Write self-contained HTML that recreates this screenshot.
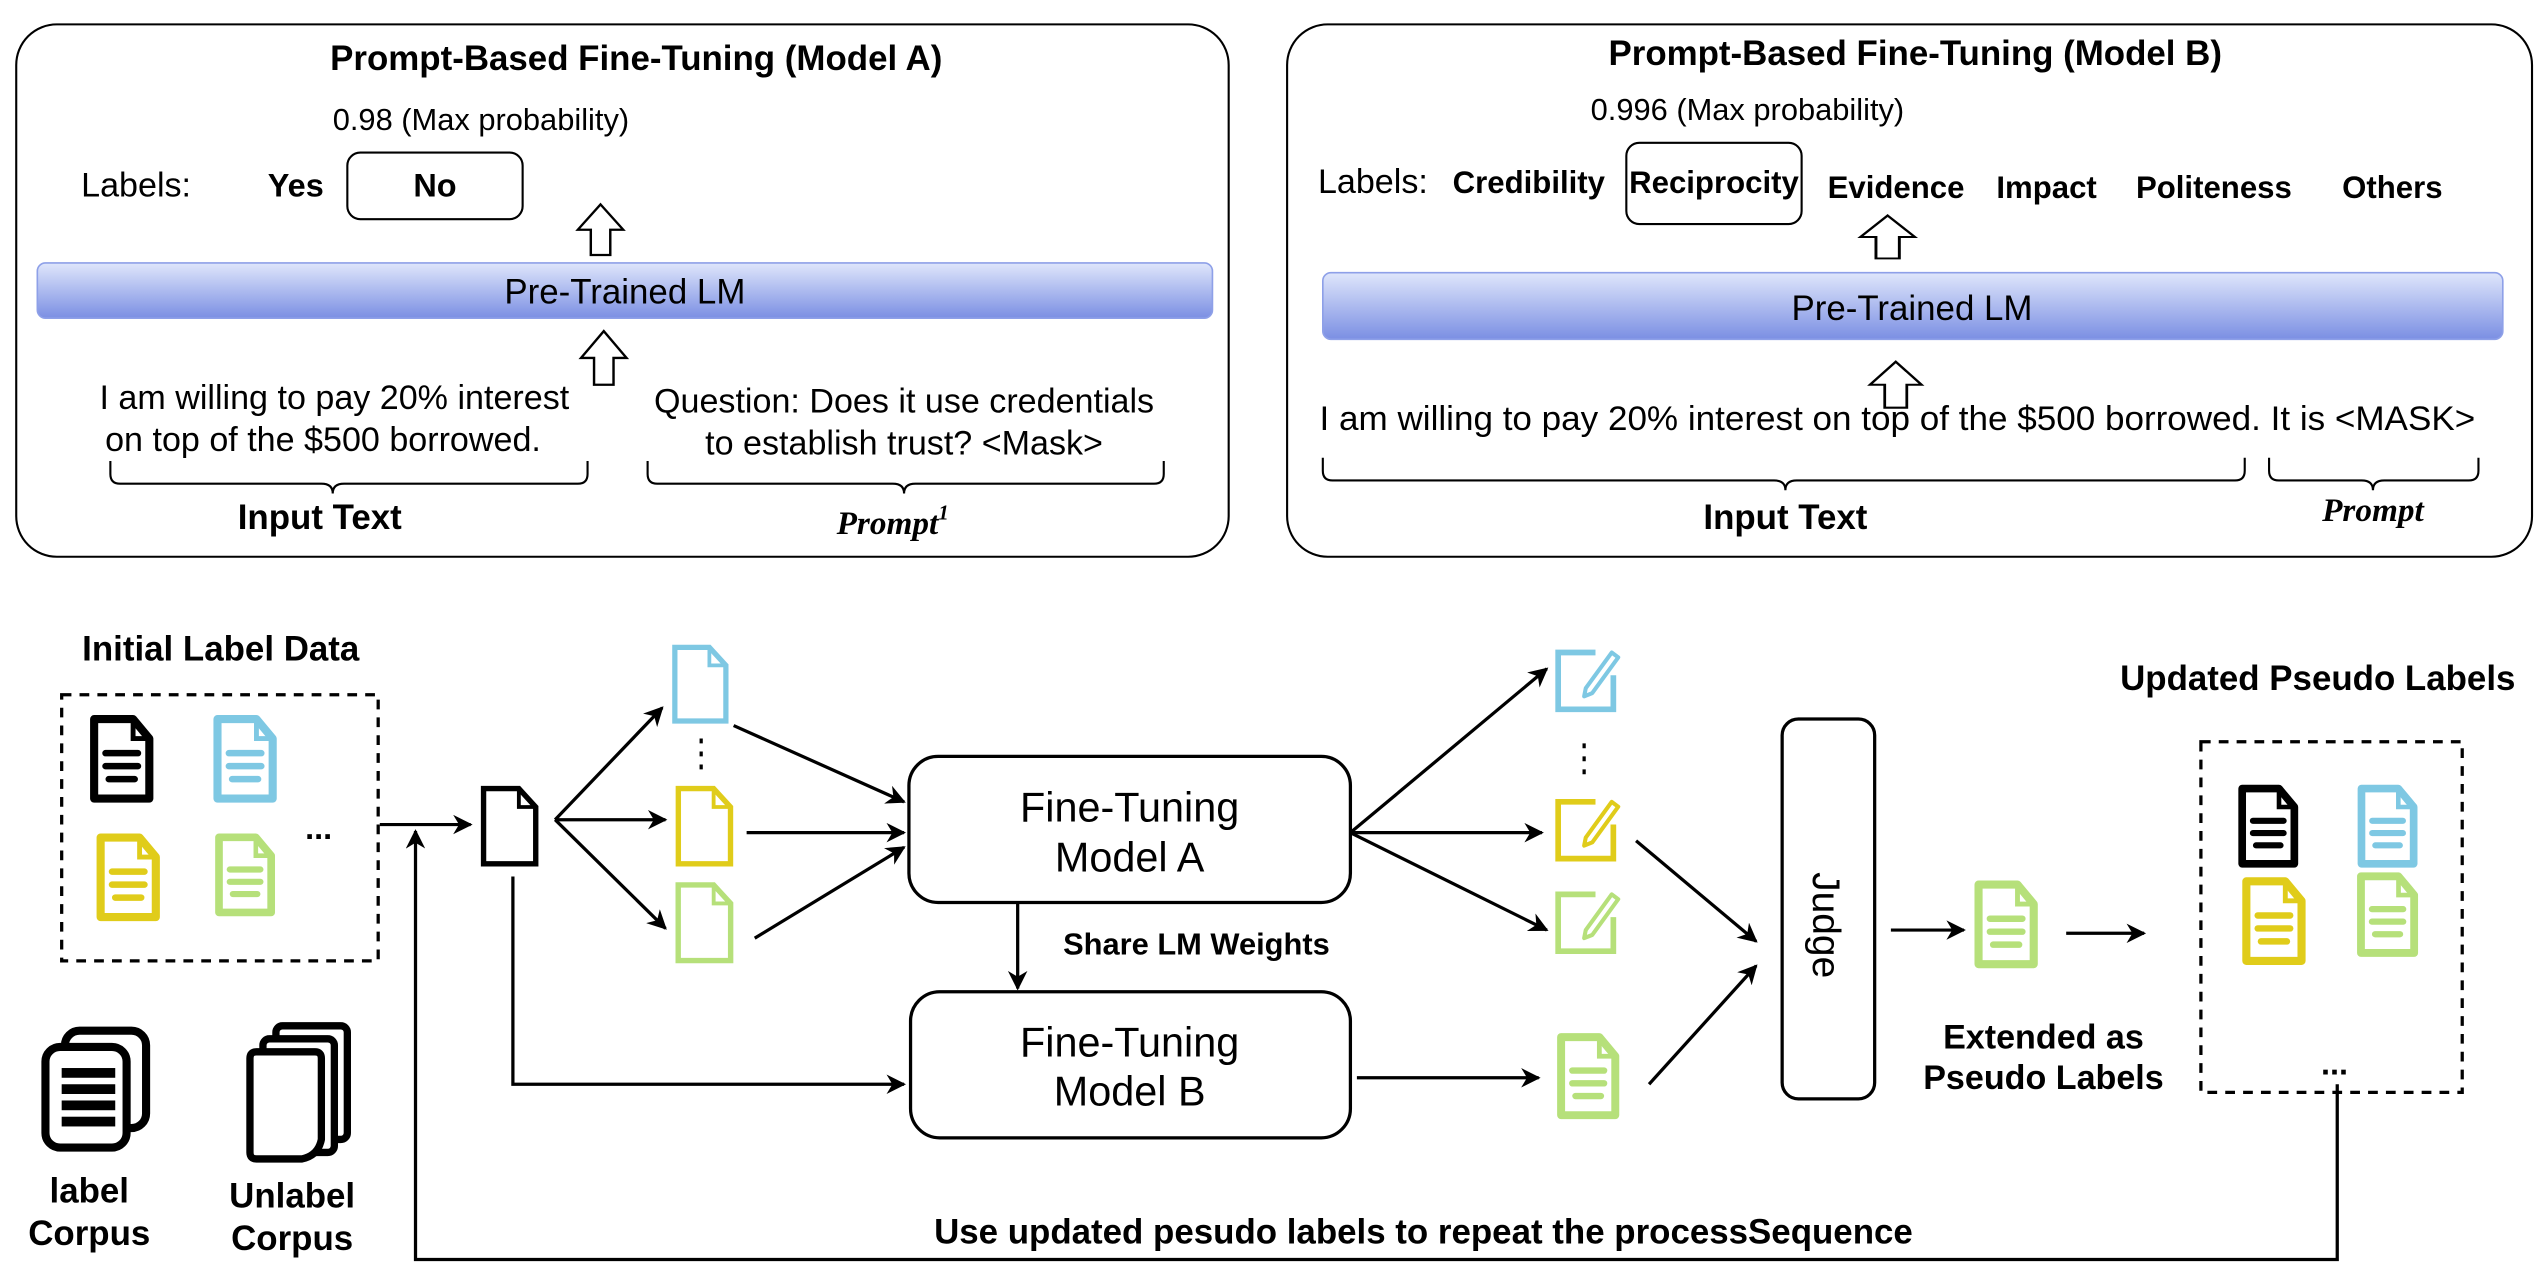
<!DOCTYPE html>
<html><head><meta charset="utf-8">
<style>
html,body{margin:0;padding:0;background:#fff;}
svg{display:block;}
text{font-family:"Liberation Sans",Arial,sans-serif;fill:#000;}
.b{font-weight:bold;}
</style></head>
<body>
<svg width="2545" height="1275" viewBox="0 0 1568 785.5" xmlns="http://www.w3.org/2000/svg">
<defs>
<linearGradient id="lm" x1="0" y1="0" x2="0" y2="1">
<stop offset="0" stop-color="#dfe6fb"/><stop offset="1" stop-color="#7b8fe3"/>
</linearGradient>
<marker id="ar2" viewBox="0 0 10 10" refX="9" refY="5" markerWidth="12" markerHeight="12" orient="auto" markerUnits="userSpaceOnUse">
<path d="M0,0 L10,5 L0,10 L3,5 Z" fill="#000"/>
</marker>
<symbol id="docL" viewBox="0 0 40 55" overflow="visible">
<path d="M3,3 H27 L37,15 V52 H3 Z" fill="#fff" stroke="currentColor" stroke-width="5" stroke-linejoin="round"/>
<path d="M27,3 V15 H37" fill="none" stroke="currentColor" stroke-width="3"/>
<path d="M10,24 H30 M10,32 H30 M12,40 H28" stroke="currentColor" stroke-width="4" stroke-linecap="round"/>
</symbol>
<symbol id="doc" viewBox="0 0 40 55" overflow="visible">
<path d="M3,3 H26 L37,15 V52 H3 Z" fill="#fff" stroke="currentColor" stroke-width="3.5"/>
<path d="M26,3 V15 H37" fill="none" stroke="currentColor" stroke-width="2.5"/>
</symbol>
<symbol id="note" viewBox="0 0 40 42" overflow="visible">
<path d="M26,4 H3 V39 H37 V18" fill="none" stroke="currentColor" stroke-width="3.5"/>
<path d="M20,26 L36,4 L40,7 L24,29 L19,31 Z" fill="#fff" stroke="currentColor" stroke-width="2.5" stroke-linejoin="round"/>
</symbol>
<symbol id="hArrow" viewBox="0 0 30 36" overflow="visible" preserveAspectRatio="none">
<path d="M15,1 L29,18 H21 V35 H9 V18 H1 Z" fill="#fff" stroke="#000" stroke-width="1.5"/>
</symbol>
</defs>

<!-- Panel A -->
<rect x="10" y="15" width="747" height="328" rx="25" fill="#fff" stroke="#000" stroke-width="1.3"/>
<text x="392" y="43" text-anchor="middle" class="b" font-size="21.5">Prompt-Based  Fine-Tuning (Model A)</text>
<text x="205" y="80" font-size="19">0.98 (Max probability)</text>
<text x="50" y="121" font-size="21">Labels:</text>
<text x="165" y="121" font-size="20" class="b">Yes</text>
<rect x="214" y="94" width="108" height="41" rx="8" fill="#fff" stroke="#000" stroke-width="1.3"/>
<text x="268" y="121" text-anchor="middle" font-size="20" class="b">No</text>
<use href="#hArrow" x="355" y="125" width="30" height="33"/>
<rect x="23" y="162" width="724" height="34" rx="5" fill="url(#lm)" stroke="#8ea0e8" stroke-width="1"/>
<text x="385" y="187" text-anchor="middle" font-size="21.5">Pre-Trained LM</text>
<use href="#hArrow" x="357" y="203" width="30" height="35"/>
<text x="206" y="252" text-anchor="middle" font-size="21">I am willing to pay 20% interest</text>
<text x="199" y="278" text-anchor="middle" font-size="21">on top of the $500 borrowed.</text>
<text x="557" y="254" text-anchor="middle" font-size="21">Question: Does it use credentials</text>
<text x="557" y="280" text-anchor="middle" font-size="21">to establish trust? &lt;Mask&gt;</text>
<path d="M68,284 v8 q0,6 6,6 H198 q7,0 7,6 q0,-6 7,-6 H356 q6,0 6,-6 v-8" fill="none" stroke="#000" stroke-width="1.3"/>
<path d="M399,284 v8 q0,6 6,6 H550 q7,0 7,6 q0,-6 7,-6 H711 q6,0 6,-6 v-8" fill="none" stroke="#000" stroke-width="1.3"/>
<text x="197" y="326" text-anchor="middle" class="b" font-size="21.5">Input Text</text>
<text x="550" y="329" text-anchor="middle" font-size="20.5" font-style="italic" font-weight="bold" style="font-family:'Liberation Serif',serif">Prompt<tspan dy="-9" font-size="13">1</tspan></text>

<!-- Panel B -->
<rect x="793" y="15" width="767" height="328" rx="25" fill="#fff" stroke="#000" stroke-width="1.3"/>
<text x="1180" y="40" text-anchor="middle" class="b" font-size="21.5">Prompt-Based  Fine-Tuning (Model B)</text>
<text x="980" y="74" font-size="19">0.996 (Max probability)</text>
<text x="812" y="119" font-size="21">Labels:</text>
<text x="895" y="119" font-size="19.2" class="b">Credibility</text>
<rect x="1002" y="88" width="108" height="50" rx="8" fill="#fff" stroke="#000" stroke-width="1.3"/>
<text x="1056" y="119" text-anchor="middle" font-size="19.2" class="b">Reciprocity</text>
<text x="1126" y="122" font-size="19.2" class="b">Evidence</text>
<text x="1230" y="122" font-size="19.2" class="b">Impact</text>
<text x="1316" y="122" font-size="19.2" class="b">Politeness</text>
<text x="1443" y="122" font-size="19.2" class="b">Others</text>
<use href="#hArrow" x="1145" y="132" width="36" height="28"/>
<rect x="815" y="168" width="727" height="41" rx="5" fill="url(#lm)" stroke="#8ea0e8" stroke-width="1"/>
<text x="1178" y="197" text-anchor="middle" font-size="21.5">Pre-Trained LM</text>
<use href="#hArrow" x="1151" y="222" width="34" height="30"/>
<text x="813" y="265" font-size="21" textLength="712" lengthAdjust="spacingAndGlyphs">I am willing to pay 20% interest on top of the $500 borrowed. It is &lt;MASK&gt;</text>
<path d="M815,282 v8 q0,6 6,6 H1093 q7,0 7,6 q0,-6 7,-6 H1377 q6,0 6,-6 v-8" fill="none" stroke="#000" stroke-width="1.3"/>
<path d="M1398,282 v8 q0,6 6,6 H1455 q7,0 7,6 q0,-6 7,-6 H1521 q6,0 6,-6 v-8" fill="none" stroke="#000" stroke-width="1.3"/>
<text x="1100" y="326" text-anchor="middle" class="b" font-size="21.5">Input Text</text>
<text x="1462" y="321" text-anchor="middle" font-size="20.5" font-style="italic" font-weight="bold" style="font-family:'Liberation Serif',serif">Prompt</text>

<!-- Bottom: initial label data -->
<text x="136" y="407" text-anchor="middle" class="b" font-size="21.5">Initial Label Data</text>
<rect x="38" y="428" width="195" height="164" fill="none" stroke="#000" stroke-width="2" stroke-dasharray="6,5"/>
<use href="#docL" x="55" y="440" width="40" height="55" color="#000"/>
<use href="#docL" x="131" y="440" width="40" height="55" color="#7ec8e3"/>
<use href="#docL" x="58" y="513" width="42" height="55" color="#e0cc1a"/>
<use href="#docL" x="131" y="513" width="40" height="52" color="#b6e07a"/>
<text x="188" y="517" font-size="20" class="b">...</text>
<line x1="234" y1="508" x2="290" y2="508" stroke="#000" stroke-width="2" marker-end="url(#ar2)"/>

<!-- corpus icons -->
<g fill="none" stroke="#000" stroke-width="5">
<rect x="40" y="635" width="50" height="60" rx="9"/>
<rect x="28" y="645" width="50" height="62" rx="9" fill="#fff"/>
</g>
<g fill="#000"><rect x="38" y="668" width="33" height="6"/><rect x="38" y="678" width="33" height="6"/><rect x="38" y="688" width="33" height="6"/><rect x="38" y="658" width="33" height="6"/></g>
<g stroke="#000" stroke-width="4.5" fill="#fff">
<rect x="170" y="632" width="44" height="70" rx="4"/>
<rect x="162" y="640" width="44" height="70" rx="4"/>
<path d="M154,652 Q154,648 158,648 H194 Q198,648 198,652 V702 Q196,712 186,714 H158 Q154,714 154,710 Z"/>
</g>
<text x="55" y="741" text-anchor="middle" class="b" font-size="21.5">label</text>
<text x="55" y="767" text-anchor="middle" class="b" font-size="21.5">Corpus</text>
<text x="180" y="744" text-anchor="middle" class="b" font-size="21.5">Unlabel</text>
<text x="180" y="770" text-anchor="middle" class="b" font-size="21.5">Corpus</text>

<!-- split -->
<use href="#doc" x="295" y="483" width="38" height="52" color="#000"/>
<g stroke="#000" stroke-width="2" fill="none">
<line x1="342" y1="505" x2="408" y2="436" marker-end="url(#ar2)"/>
<line x1="342" y1="505" x2="410" y2="505" marker-end="url(#ar2)"/>
<line x1="342" y1="505" x2="410" y2="572" marker-end="url(#ar2)"/>
</g>
<use href="#doc" x="413" y="390" width="37" height="63" color="#7ec8e3"/>
<line x1="432" y1="455" x2="432" y2="477" stroke="#000" stroke-width="2" stroke-dasharray="3,5"/>
<use href="#doc" x="415" y="483" width="38" height="52" color="#e0cc1a"/>
<use href="#doc" x="415" y="540" width="38" height="57" color="#b6e07a"/>
<g stroke="#000" stroke-width="2" fill="none">
<line x1="452" y1="447" x2="557" y2="494" marker-end="url(#ar2)"/>
<line x1="460" y1="513" x2="557" y2="513" marker-end="url(#ar2)"/>
<line x1="465" y1="578" x2="557" y2="522" marker-end="url(#ar2)"/>
<path d="M316,540 V668 H557" marker-end="url(#ar2)"/>
<line x1="627" y1="556" x2="627" y2="609" marker-end="url(#ar2)"/>
</g>

<rect x="560" y="466" width="272" height="90" rx="18" fill="#fff" stroke="#000" stroke-width="2"/>
<text x="696" y="506" text-anchor="middle" font-size="25.5">Fine-Tuning</text>
<text x="696" y="537" text-anchor="middle" font-size="25.5">Model A</text>
<text x="655" y="588" class="b" font-size="19">Share LM Weights</text>
<rect x="561" y="611" width="271" height="90" rx="18" fill="#fff" stroke="#000" stroke-width="2"/>
<text x="696" y="651" text-anchor="middle" font-size="25.5">Fine-Tuning</text>
<text x="696" y="681" text-anchor="middle" font-size="25.5">Model B</text>

<g stroke="#000" stroke-width="2" fill="none">
<line x1="832" y1="513" x2="953" y2="412" marker-end="url(#ar2)"/>
<line x1="832" y1="513" x2="950" y2="513" marker-end="url(#ar2)"/>
<line x1="832" y1="513" x2="953" y2="573" marker-end="url(#ar2)"/>
<line x1="836" y1="664" x2="948" y2="664" marker-end="url(#ar2)"/>
<line x1="1008" y1="518" x2="1082" y2="580" marker-end="url(#ar2)"/>
<line x1="1016" y1="668" x2="1082" y2="595" marker-end="url(#ar2)"/>
<line x1="1165" y1="573" x2="1210" y2="573" marker-end="url(#ar2)"/>
<line x1="1273" y1="575" x2="1321" y2="575" marker-end="url(#ar2)"/>
</g>
<use href="#note" x="957" y="398" width="40" height="42" color="#7ec8e3"/>
<line x1="976" y1="458" x2="976" y2="480" stroke="#000" stroke-width="2" stroke-dasharray="3,5"/>
<use href="#note" x="957" y="490" width="40" height="42" color="#e0cc1a"/>
<use href="#note" x="957" y="547" width="40" height="42" color="#b6e07a"/>
<use href="#docL" x="957" y="636" width="43" height="54" color="#b6e07a"/>

<rect x="1098" y="443" width="57" height="234" rx="10" fill="#fff" stroke="#000" stroke-width="2"/>
<text x="0" y="0" transform="translate(1117,570) rotate(90)" text-anchor="middle" font-size="24">Judge</text>

<use href="#docL" x="1215" y="542" width="42" height="55" color="#b6e07a"/>
<text x="1259" y="646" text-anchor="middle" class="b" font-size="21">Extended as</text>
<text x="1259" y="671" text-anchor="middle" class="b" font-size="21">Pseudo Labels</text>

<text x="1428" y="425" text-anchor="middle" class="b" font-size="21.5">Updated Pseudo Labels</text>
<rect x="1356" y="457" width="161" height="216" fill="none" stroke="#000" stroke-width="2" stroke-dasharray="6,5"/>
<use href="#docL" x="1377" y="483" width="41" height="52" color="#000"/>
<use href="#docL" x="1450" y="483" width="42" height="52" color="#7ec8e3"/>
<use href="#docL" x="1380" y="540" width="42" height="55" color="#e0cc1a"/>
<use href="#docL" x="1450" y="537" width="42" height="53" color="#b6e07a"/>
<text x="1430" y="662" font-size="20" class="b">...</text>

<path d="M1440,668 V776 H256 V512" fill="none" stroke="#000" stroke-width="2" marker-end="url(#ar2)"/>
<text x="877" y="766" text-anchor="middle" class="b" font-size="21.5">Use updated pesudo labels to repeat the processSequence</text>
</svg>
</body></html>
